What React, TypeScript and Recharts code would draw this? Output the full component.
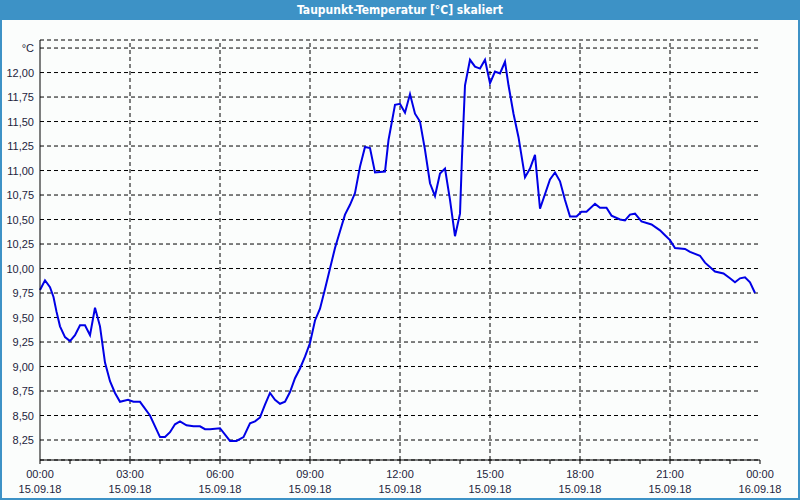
import React from 'react';
import { LineChart, Line, XAxis, YAxis, CartesianGrid, ReferenceLine } from 'recharts';

// time in minutes since 15.09.18 00:00
const minutes = [
  0, 10, 20, 27, 33, 40, 50, 60, 70, 80, 90, 100, 110, 120, 130, 140, 150, 160, 176, 187,
  200, 220, 240, 250, 260, 270, 280, 293, 307, 320, 330, 340, 360, 380, 393, 407, 420, 430, 440, 450,
  460, 470, 480, 490, 500, 510, 520, 530, 540, 550, 560, 570, 580, 590, 600, 610, 620, 630, 640, 650,
  660, 670, 690, 697, 710, 720, 730, 740, 750, 760, 770, 780, 790, 800, 810, 820, 830, 840, 844, 850,
  860, 870, 880, 890, 900, 910, 920, 930, 937, 947, 957, 970, 980, 990, 1000, 1020, 1030, 1040, 1050, 1060,
  1073, 1083, 1093, 1110, 1120, 1133, 1143, 1160, 1170, 1180, 1190, 1203, 1223, 1240, 1250, 1260, 1270, 1290, 1300, 1320,
  1330, 1350, 1367, 1380, 1390, 1400, 1410, 1420, 1430,
];
const dewPoint = [
  9.78, 9.88, 9.81, 9.71, 9.56, 9.41, 9.30, 9.26, 9.32, 9.42, 9.42, 9.32, 9.60, 9.41, 9.04, 8.85, 8.73, 8.64, 8.66, 8.64,
  8.64, 8.50, 8.28, 8.28, 8.33, 8.41, 8.44, 8.40, 8.39, 8.39, 8.36, 8.36, 8.37, 8.24, 8.24, 8.28, 8.42, 8.44, 8.48, 8.61,
  8.73, 8.66, 8.62, 8.64, 8.74, 8.88, 8.98, 9.10, 9.24, 9.47, 9.59, 9.79, 10.00, 10.21, 10.38, 10.55, 10.65, 10.77, 11.04, 11.24,
  11.23, 10.98, 10.99, 11.31, 11.67, 11.68, 11.59, 11.78, 11.58, 11.50, 11.21, 10.87, 10.74, 10.97, 11.02, 10.70, 10.33, 10.56, 11.14, 11.87,
  12.13, 12.06, 12.04, 12.13, 11.89, 12.01, 11.99, 12.11, 11.87, 11.58, 11.34, 10.93, 11.02, 11.16, 10.61, 10.91, 10.98, 10.89, 10.70, 10.53,
  10.53, 10.58, 10.58, 10.66, 10.62, 10.62, 10.54, 10.50, 10.49, 10.55, 10.56, 10.48, 10.45, 10.39, 10.34, 10.29, 10.21, 10.20, 10.17, 10.13,
  10.06, 9.97, 9.95, 9.90, 9.86, 9.90, 9.91, 9.86, 9.75,
];

const yTicks = [8.25, 8.5, 8.75, 9.0, 9.25, 9.5, 9.75, 10.0, 10.25, 10.5, 10.75, 11.0, 11.25, 11.5, 11.75, 12.0, 12.25];
const unitLabel = '°C';
const xTicks = [0, 60, 120, 180, 240, 300, 360, 420, 480, 540, 600, 660, 720, 780, 840, 900, 960, 1020, 1080, 1140, 1200, 1260, 1320, 1380, 1440];
const xMajor = [0, 180, 360, 540, 720, 900, 1080, 1260, 1440];
const timeLabels = ['00:00', '03:00', '06:00', '09:00', '12:00', '15:00', '18:00', '21:00', '00:00'];
const dateLabels = ['15.09.18', '15.09.18', '15.09.18', '15.09.18', '15.09.18', '15.09.18', '15.09.18', '15.09.18', '16.09.18'];
const gridX = [180, 360, 540, 720, 900, 1080, 1260];
const title = 'Taupunkt-Temperatur [°C] skaliert';

const data = minutes.map((m, i) => ({ t: m, v: dewPoint[i] }));

const FONT = '"Liberation Sans", Arial, sans-serif';
const TEXT = '#1e1e3c';

const XTick = (props: any) => {
  const { x, y, payload } = props;
  const idx = xMajor.indexOf(payload.value);
  if (idx < 0) return null;
  return (
    <text x={x} y={y} textAnchor="middle" fontFamily={FONT} fontSize={11} fill={TEXT}>
      <tspan x={x} dy={12}>{timeLabels[idx]}</tspan>
      <tspan x={x} dy={15}>{dateLabels[idx]}</tspan>
    </text>
  );
};

const YTick = (props: any) => {
  const { x, y, payload } = props;
  const label = payload.value === 12.25 ? unitLabel : payload.value.toFixed(2).replace('.', ',');
  return (
    <text x={x} y={y} dy={4} textAnchor="end" fontFamily={FONT} fontSize={11} fill={TEXT}>
      {label}
    </text>
  );
};

export default function App() {
  return (
    <div style={{ position: 'absolute', left: 0, top: 0, width: 800, height: 500, background: '#fbfdfc', overflow: 'hidden' }}>
      <div
        style={{
          position: 'absolute', left: 0, top: 0, width: 800, height: 20, background: '#3d92c6',
          color: '#ffffff', fontFamily: '"DejaVu Sans Condensed", "DejaVu Sans", sans-serif', fontWeight: 'bold',
          fontSize: 12, lineHeight: '20px', textAlign: 'center',
        }}
      >
        {title}
      </div>
      <div style={{ position: 'absolute', left: 0, top: 20, width: 2, height: 480, background: '#3d92c6' }} />
      <div style={{ position: 'absolute', right: 0, top: 20, width: 2, height: 480, background: '#3d92c6' }} />
      <div style={{ position: 'absolute', left: 0, bottom: 0, width: 800, height: 2, background: '#3d92c6' }} />
      <div style={{ position: 'absolute', left: 0, top: 0 }}>
        <LineChart width={800} height={500} data={data} margin={{ top: 40, right: 40, bottom: 0, left: 0 }}>
          <CartesianGrid vertical={false} stroke="#000" strokeDasharray="4 3" />
          <XAxis
            dataKey="t"
            type="number"
            domain={[0, 1440]}
            ticks={xTicks}
            interval={0}
            height={40}
            tick={<XTick />}
            tickLine={{ stroke: '#000' }}
            tickSize={4}
            axisLine={{ stroke: '#000' }}
          />
          <XAxis
            xAxisId="top"
            orientation="top"
            dataKey="t"
            type="number"
            domain={[0, 1440]}
            height={0}
            tick={false}
            tickLine={false}
            axisLine={{ stroke: '#000' }}
          />
          <YAxis
            type="number"
            domain={[8.046, 12.332]}
            ticks={yTicks}
            interval={0}
            width={40}
            tick={<YTick />}
            tickLine={false}
            tickSize={4}
            axisLine={{ stroke: '#000' }}
            allowDataOverflow
          />
          <YAxis
            yAxisId="right"
            orientation="right"
            type="number"
            domain={[8.046, 12.332]}
            width={0}
            tick={false}
            tickLine={false}
            axisLine={{ stroke: '#000' }}
          />
          {gridX.map((g) => (
            <ReferenceLine key={g} x={g} stroke="#000" strokeDasharray="4 3" />
          ))}
          <Line
            type="linear"
            dataKey="v"
            stroke="#0000e6"
            strokeWidth={2}
            dot={false}
            isAnimationActive={false}
          />
        </LineChart>
      </div>
    </div>
  );
}
